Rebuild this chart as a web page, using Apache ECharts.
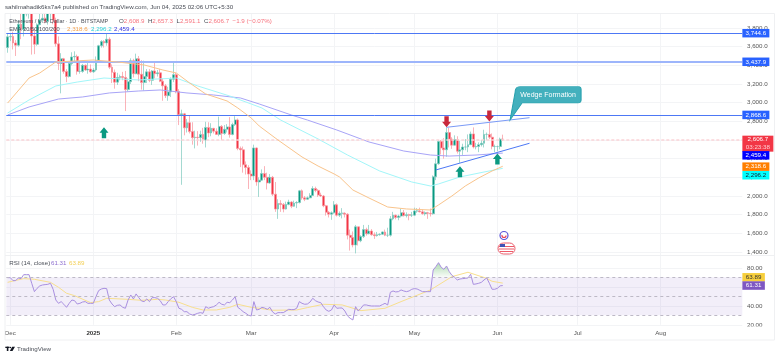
<!DOCTYPE html>
<html lang="en">

<head>
  <meta charset="UTF-8">
  <title>ETH/USD</title>
  <script src="https://cdn.jsdelivr.net/npm/echarts@6/dist/echarts.min.js"></script>
  <style>
    html, body { margin: 0; padding: 0; background: #fff; }
    #chart { width: 780px; height: 358px; }
  </style>
</head>

<body>
  <div id="chart"></div>
  <script>
    // daily candles from 2024-11-30, rows are [open, close, low, high]
    const candles = [
      [3590,3705,3535,3735],[3705,3710,3660,3745],[3710,3640,3570,3760],[3640,3615,3500,3670],[3615,3840,3600,3885],
      [3840,3785,3680,3960],[3785,3960,3710,3960],[3950,3955,3925,3960],[3955,3960,3900,3960],[3960,3715,3515,3960],
      [3715,3625,3520,3790],[3625,3835,3610,3850],[3835,3885,3830,3960],[3885,3905,3860,3950],[3905,3870,3850,3960],
      [3870,3955,3835,3960],[3955,3960,3885,3960],[3960,3885,3840,3960],[3885,3630,3600,3910],[3630,3420,3350,3710],
      [3420,3470,3100,3530],[3470,3335,3310,3480],[3335,3280,3220,3360],[3280,3420,3270,3445],[3420,3490,3400,3540],
      [3490,3495,3440,3550],[3495,3335,3300,3515],[3335,3335,3310,3440],[3335,3400,3320,3415],[3400,3350,3340,3410],
      [3350,3360,3310,3430],[3360,3330,3320,3410],[3330,3350,3320,3370],[3350,3450,3335,3495],[3450,3610,3450,3620],
      [3610,3655,3590,3670],[3655,3640,3590,3670],[3640,3680,3610,3745],[3680,3380,3360,3700],[3380,3325,3210,3410],
      [3325,3220,3150,3355],[3220,3270,3190,3320],[3270,3280,3240,3300],[3280,3270,3240,3330],[3270,3140,2910,3340],
      [3140,3225,3120,3260],[3225,3450,3200,3475],[3450,3310,3270,3470],[3310,3470,3305,3525],[3470,3305,3230,3500],
      [3305,3215,3140,3455],[3215,3280,3130,3450],[3280,3330,3210,3360],[3330,3240,3220,3360],[3240,3340,3190,3350],
      [3340,3310,3260,3430],[3310,3320,3280,3350],[3320,3230,3220,3360],[3230,3180,3020,3260],[3180,3075,3050,3200],
      [3075,3115,3020,3170],[3115,3250,3060,3270],[3250,3300,3220,3440],[3300,3120,3100,3320],[3120,2870,2760,3145],
      [2870,2880,2120,2925],[2880,2730,2650,2890],[2730,2785,2680,2825],[2785,2690,2670,2860],[2690,2625,2550,2790],
      [2625,2630,2510,2700],[2630,2625,2540,2695],[2625,2660,2580,2700],[2660,2600,2560,2730],[2600,2735,2520,2795],
      [2735,2675,2630,2790],[2675,2725,2640,2780],[2725,2695,2670,2730],[2695,2660,2655,2725],[2660,2745,2640,2850],
      [2745,2670,2600,2760],[2670,2715,2655,2760],[2715,2740,2680,2770],[2740,2660,2625,2845],[2660,2765,2650,2785],
      [2765,2815,2750,2855],[2815,2510,2490,2830],[2510,2495,2310,2530],[2495,2335,2250,2530],[2335,2305,2230,2370],
      [2305,2235,2075,2330],[2235,2215,2170,2275],[2215,2515,2170,2550],[2515,2150,2110,2520],[2150,2170,1990,2200],
      [2170,2240,2165,2285],[2240,2200,2170,2320],[2200,2140,2070,2250],[2140,2200,2130,2235],[2200,2020,2000,2215],
      [2020,1860,1830,2150],[1860,1920,1755,1965],[1920,1910,1830,1955],[1910,1860,1825,1925],[1860,1910,1855,1940],
      [1910,1935,1900,1960],[1935,1890,1870,1945],[1890,1925,1885,1950],[1925,1930,1870,1945],[1930,2055,1920,2065],
      [2055,1980,1960,2070],[1980,1965,1945,2000],[1965,1980,1960,1995],[1980,2005,1975,2030],[2005,2080,2000,2105],
      [2080,2060,2040,2100],[2060,2010,1990,2075],[2010,2000,1990,2035],[2000,1895,1880,2010],[1895,1825,1790,1905],
      [1825,1805,1770,1840],[1805,1820,1745,1835],[1820,1905,1810,1945],[1905,1795,1780,1920],[1795,1815,1775,1835],
      [1815,1815,1760,1870],[1815,1805,1770,1825],[1805,1580,1535,1815],[1580,1555,1415,1640],[1555,1475,1450,1620],
      [1475,1670,1385,1690],[1670,1520,1470,1670],[1520,1565,1505,1580],[1565,1640,1550,1690],[1640,1595,1575,1660],
      [1595,1625,1590,1690],[1625,1585,1575,1645],[1585,1575,1540,1610],[1575,1585,1565,1615],[1585,1590,1575,1600],
      [1590,1615,1585,1620],[1615,1580,1570,1640],[1580,1580,1560,1660],[1580,1755,1565,1785],[1755,1795,1740,1830],
      [1795,1770,1750,1800],[1770,1785,1740,1800],[1785,1820,1770,1865],[1820,1790,1780,1850],[1790,1800,1770,1825],
      [1800,1795,1740,1810],[1795,1795,1775,1830],[1795,1840,1785,1875],[1840,1840,1820,1870],[1840,1830,1825,1875],
      [1830,1810,1800,1855],[1810,1820,1790,1835],[1820,1815,1755,1830],[1815,1810,1780,1865],[1810,2205,1800,2220],
      [2205,2345,2170,2400],[2345,2585,2335,2600],[2585,2515,2445,2600],[2515,2495,2400,2620],[2495,2680,2420,2735],
      [2680,2610,2520,2730],[2610,2545,2505,2630],[2545,2605,2540,2650],[2605,2480,2455,2640],[2480,2495,2355,2590],
      [2495,2525,2440,2560],[2525,2525,2490,2610],[2525,2550,2470,2660],[2550,2665,2545,2690],[2665,2525,2510,2735],
      [2525,2530,2500,2570],[2530,2550,2470,2575],[2550,2565,2530,2600],[2565,2660,2520,2710],[2660,2660,2600,2680],
      [2660,2630,2610,2785],[2630,2530,2500,2670],[2530,2530,2470,2550],[2530,2530,2480,2540],[2530,2609,2500,2625],
      [2608.9,2606.7,2591.1,2657.3]
    ]

    // moving averages: [date, value]
    const ema50 = [
      ['2024-11-30',2996],['2024-12-08',3264],['2024-12-12',3318],['2024-12-18',3436],['2025-01-01',3457],
      ['2025-01-10',3436],['2025-01-20',3404],['2025-01-27',3350],['2025-02-01',3318],['2025-02-06',3211],
      ['2025-02-12',3093],['2025-02-20',3018],['2025-02-24',2943],['2025-03-01',2836],['2025-03-04',2750],
      ['2025-03-11',2600],['2025-03-20',2418],['2025-03-26',2321],['2025-04-01',2236],['2025-04-03',2204],
      ['2025-04-08',2064],['2025-04-14',1979],['2025-04-21',1882],['2025-04-28',1861],['2025-05-07',1850],
      ['2025-05-10',1904],['2025-05-15',2000],['2025-05-20',2107],['2025-05-25',2193],['2025-05-30',2268],
      ['2025-06-03',2318.6]
    ]
    const ema100 = [
      ['2024-11-30',2889],['2024-12-08',3029],['2024-12-18',3179],['2024-12-26',3221],['2025-01-05',3264],
      ['2025-01-18',3243],['2025-02-01',3264],['2025-02-09',3179],['2025-02-21',3071],['2025-03-01',2986],
      ['2025-03-05',2943],['2025-03-12',2814],['2025-03-26',2611],['2025-04-06',2439],['2025-04-18',2268],
      ['2025-04-30',2150],['2025-05-07',2107],['2025-05-10',2129],['2025-05-18',2204],['2025-05-27',2257],
      ['2025-06-03',2296.2]
    ]
    const ema200 = [
      ['2024-11-30',2868],['2024-12-08',2954],['2024-12-19',3039],['2024-12-28',3061],['2025-01-07',3104],
      ['2025-01-18',3125],['2025-01-26',3136],['2025-02-05',3104],['2025-02-15',3082],['2025-02-25',3050],
      ['2025-03-04',2986],['2025-03-16',2868],['2025-03-22',2814],['2025-04-02',2707],['2025-04-14',2579],
      ['2025-04-27',2482],['2025-05-07',2439],['2025-05-14',2428],['2025-05-24',2439],['2025-06-03',2459.4]
    ]

    // RSI(14), one value per candle
    const rsi = [
      69.6,69.6,66.5,66.5,69.3,68.6,72.8,72.8,72.8,63.7,54.9,58.4,60.9,61.9,62.3,62.6,63.7,57.4,46.1,42.6,44.4,41.6,38.4,42.6,46.1,45.4,41.9,42.6,44,44.4,42.6,42.6,
      42.6,49.6,56,57.7,58.4,58.1,46.1,41.9,39.1,40.5,40.9,38.4,37.4,46.1,51.4,47.2,52.5,48.6,45.1,44.4,47.2,44.4,48.6,48.6,47.9,45.4,40.9,40.9,44.4,47.5,49.6,
      44.4,37.4,36.3,33.8,33.8,31.4,30.3,31,32.1,32.8,32.1,39.1,37.4,38.4,39.1,40.9,43.7,41.6,40.9,43.7,43.3,46.1,49.6,38.4,36.3,33.8,32.1,30,
      29.3,44.4,35.6,36.3,38.4,37.7,36.3,38.4,33.5,31.4,32.8,32.8,32.8,34.5,36.3,36,36,37.4,44.4,42.6,41.6,41.9,44,47.9,45.4,44,43.3,39.1,35.6,34.2,35.6,
      40.9,37.4,37.7,37.7,34.5,29.3,26.8,25.1,39.1,34.5,37.4,40.9,40.9,40.2,39.8,39.8,39.8,39.8,41.2,42.6,40.9,54.2,55.6,54.6,54.9,56.7,55.6,54.9,55.6,57.4,
      58.1,57.7,56.3,54.9,54.9,54.9,54.9,77.7,81.2,85.4,80.5,78.4,81.9,76,72.1,70,67.2,68.2,68.6,68.9,69.3,73.2,62.6,63,63.7,64.7,67.2,69.3,63.7,57.4,57.4,58.4,61,61.31
    ]
    const rsiMa = [
      ['2024-11-30',64.7],['2024-12-02',66.1],['2024-12-06',68.6],['2024-12-10',67.9],['2024-12-16',64.7],
      ['2024-12-19',59.5],['2024-12-22',53.2],['2024-12-25',50.7],['2024-12-31',43.3],['2025-01-03',44.4],
      ['2025-01-06',47.9],['2025-01-14',46.8],['2025-01-19',45.8],['2025-01-25',46.8],['2025-01-28',46.1],
      ['2025-02-02',43.7],['2025-02-07',38.4],['2025-02-11',35.6],['2025-02-16',35.6],['2025-02-21',38.4],
      ['2025-02-24',41.6],['2025-03-01',38.4],['2025-03-04',37.4],['2025-03-09',35.3],['2025-03-18',35.6],
      ['2025-03-22',38.1],['2025-03-28',41.6],['2025-04-04',40.9],['2025-04-11',34.9],['2025-04-20',37.4],
      ['2025-04-26',44.4],['2025-05-07',56.7],['2025-05-15',70.7],['2025-05-21',75.3],['2025-05-28',68.9],
      ['2025-05-30',65.8],['2025-06-03',63.89]
    ]

    const levels = [3744.6, 3437.9, 2868.6]
    const lastPrice = 2606.7
    const wedgeTop = [['2025-05-13', 2736], ['2025-06-13', 2839]]
    const wedgeBottom = [['2025-05-09', 2279], ['2025-06-13', 2565]]
    const arrowsDown = [['2025-05-13', 2796], ['2025-05-29', 2857]]
    const arrowsUp = [['2025-01-05', 2678], ['2025-05-18', 2260], ['2025-06-01', 2396]]
    const monthLabels = {
      '2024-12-01': 'Dec', '2025-01-01': '2025', '2025-02-01': 'Feb', '2025-03-01': 'Mar',
      '2025-04-01': 'Apr', '2025-05-01': 'May', '2025-06-01': 'Jun', '2025-07-01': 'Jul', '2025-08-01': 'Aug'
    }

    // axis runs to the end of August, the candles stop at Jun 3
    const days = []
    for (let i = 0; i < 275; i++) {
      days.push(new Date(Date.UTC(2024, 10, 30 + i)).toISOString().slice(0, 10))
    }
    const lastDay = days[days.length - 1]
    const isMonth = (i, d) => monthLabels[d] !== undefined

    const RED = '#f23645'
    const GREEN = '#089981'
    const BLUE = '#4d78f5'
    const GRID = '#f3f4f6'
    const FONT = '"Liberation Sans", Arial, sans-serif'

    const fmtPrice = v => v.toLocaleString('en-US', { minimumFractionDigits: 1, maximumFractionDigits: 1 })

    const ARROW_UP = 'path://M4.5 0L9 5.5H6.7V11H2.3V5.5H0Z'
    const ARROW_DOWN = 'path://M2.3 0H6.7V5.5H9L4.5 11L0 5.5H2.3Z'
    const CALLOUT = 'path://M0 33.5L5 6Q5 0 10 0H68Q71 0 71 3V13.5Q71 16.5 68 16.5H12Z'

    // price tag on the right scale
    function tag(value, bg, color, dy, w) {
      return {
        coord: [lastDay, value],
        symbol: 'rect',
        symbolSize: [w, 8.5],
        symbolOffset: [1.4 + w / 2, dy],
        itemStyle: { color: bg },
        label: { show: true, position: 'inside', formatter: w > 24 ? fmtPrice(value) : value.toFixed(2), color: color, fontSize: 6.2, fontFamily: FONT }
      }
    }

    const arrow = (pt, sym, color) => ({
      coord: pt, symbol: sym, symbolSize: [9, 11], itemStyle: { color: color }, label: { show: false }
    })

    const markers = [
      ...arrowsDown.map(p => arrow(p, ARROW_DOWN, '#c8283c')),
      ...arrowsUp.map(p => arrow(p, ARROW_UP, '#0b9981')),
      {
        coord: ['2025-06-19', 2994],
        symbol: CALLOUT,
        symbolSize: [71, 33.5],
        symbolKeepAspect: false,
        itemStyle: { color: '#43b0bd', borderColor: '#25a0ad', borderWidth: 0.7 },
        label: { show: true, position: 'inside', offset: [2.5, -8.5], formatter: 'Wedge Formation', color: '#fff', fontSize: 7, fontFamily: FONT }
      },
      tag(levels[0], '#2962ff', '#fff', 0, 27),
      tag(levels[1], '#2962ff', '#fff', 0, 27),
      tag(levels[2], '#2962ff', '#fff', 0, 27),
      {
        coord: [lastDay, lastPrice],
        symbol: 'rect',
        symbolSize: [31, 16],
        symbolOffset: [16.9, 4.3],
        itemStyle: { color: RED },
        label: {
          show: true, position: 'inside', formatter: '{a|2,606.7}\n{b|03:23:38}',
          rich: {
            a: { color: '#fff', fontSize: 6.2, lineHeight: 8, fontFamily: FONT },
            b: { color: '#ffd0d4', fontSize: 6.2, lineHeight: 8, fontFamily: FONT }
          }
        }
      },
      tag(2459.4, '#0000ff', '#fff', 2.2, 27),
      tag(2318.6, '#ff7f00', '#fff', 0.4, 27),
      tag(2296.2, '#00ffff', '#123', 6.9, 27)
    ]

    const emaLine = (name, data, color) => ({
      name, type: 'line', data, xAxisIndex: 0, yAxisIndex: 0,
      showSymbol: false, silent: true, lineStyle: { color, width: 1 }
    })

    const title = (text, left, top, rich, size) => ({
      text, left, top, z: 60, padding: 0,
      textStyle: { fontSize: size || 6.2, fontWeight: 'normal', color: '#4a4e57', fontFamily: FONT, rich }
    })
    const ohlcRich = {
      r: { color: '#f7737e', fontSize: 6.2, fontFamily: FONT },
      k: { color: '#4a4e57', fontSize: 6.2, fontFamily: FONT }
    }

    const option = {
      animation: false,
      backgroundColor: '#fff',
      textStyle: { fontFamily: FONT },
      title: [
        title('sahilmahadik6ks7a4 published on TradingView.com, Jun 04, 2025 02:06 UTC+5:30', 5, 4.5),
        title('Ethereum / U.S. Dollar · 1D · BITSTAMP', 9.3, 18, undefined, 5.5),
        title('{k|O}{r|2,608.9}  {k|H}{r|2,657.3}  {k|L}{r|2,591.1}  {k|C}{r|2,606.7}  {r|−1.9 (−0.07%)}', 119, 18, ohlcRich),
        title('EMA 20/50/100/200', 9.3, 26.5, undefined, 5.7),
        title('{o|2,318.6}', 67, 26.5, { o: { color: '#f5a04a', fontSize: 6.2, fontFamily: FONT } }),
        title('{c|2,296.2}', 91, 26.5, { c: { color: '#27cfd6', fontSize: 6.2, fontFamily: FONT } }),
        title('{b|2,459.4}', 114, 26.5, { b: { color: '#3535e0', fontSize: 6.2, fontFamily: FONT } }),
        title('RSI (14, close)', 9.3, 260),
        title('{p|61.31}', 51, 260, { p: { color: '#8e6fcf', fontSize: 6.2, fontFamily: FONT } }),
        title('{y|63.89}', 69, 260, { y: { color: '#f3cf55', fontSize: 6.2, fontFamily: FONT } }),
        title('TradingView', 17, 346)
      ],
      grid: [
        { left: 6.3, width: 736, top: 9.33, height: 261.33 },
        { left: 6.3, width: 736, top: 248.8, height: 76 }
      ],
      xAxis: [
        {
          type: 'category', gridIndex: 0, data: days, boundaryGap: true,
          axisLine: { show: false }, axisTick: { show: false }, axisLabel: { show: false },
          splitLine: { show: true, interval: isMonth, alignWithLabel: true, lineStyle: { color: GRID, width: 1 } }
        },
        {
          type: 'category', gridIndex: 1, data: days, boundaryGap: true,
          axisLine: { show: false }, axisTick: { show: false },
          axisLabel: {
            show: true, interval: isMonth, margin: 5, color: '#555', fontSize: 6.2, hideOverlap: false,
            formatter: v => v === '2025-01-01' ? '{y|2025}' : monthLabels[v],
            rich: { y: { fontWeight: 'bold', color: '#333', fontSize: 6.2, fontFamily: FONT } }
          },
          splitLine: { show: true, interval: isMonth, alignWithLabel: true, lineStyle: { color: GRID, width: 1 } }
        }
      ],
      yAxis: [
        {
          type: 'value', gridIndex: 0, position: 'right', min: 1200, max: 4000, interval: 200,
          axisLine: { show: false }, axisTick: { show: false },
          axisLabel: { margin: 4.7, color: '#555', fontSize: 6.2, showMinLabel: false, showMaxLabel: false, formatter: v => fmtPrice(v) },
          splitLine: { show: true, showMinLine: false, showMaxLine: false, lineStyle: { color: GRID, width: 1 } }
        },
        {
          type: 'value', gridIndex: 1, position: 'right', min: 20, max: 100, interval: 20,
          axisLine: { show: false }, axisTick: { show: false },
          axisLabel: { margin: 4.7, color: '#555', fontSize: 6.2, showMaxLabel: false, formatter: v => v.toFixed(2) },
          splitLine: { show: true, showMaxLine: false, lineStyle: { color: GRID, width: 1 } }
        }
      ],
      series: [
        {
          type: 'candlestick', name: 'ETH', data: candles, xAxisIndex: 0, yAxisIndex: 0,
          barWidth: 2.4, silent: true,
          itemStyle: { color: GREEN, color0: RED, borderColor: '#7cc9bd', borderColor0: '#f8929b', borderWidth: 0.7 }
        },
        emaLine('EMA 200', ema200, '#a8a4f7'),
        emaLine('EMA 100', ema100, '#a2f6f9'),
        {
          ...emaLine('EMA 50', ema50, '#f9c48c'),
          z: 5,
          markLine: {
            silent: true, symbol: 'none', animation: false, label: { show: false },
            data: [
              { yAxis: levels[0], lineStyle: { color: BLUE, width: 1, type: 'solid' } },
              { yAxis: levels[1], lineStyle: { color: '#9db5fb', width: 2, type: 'solid' } },
              { yAxis: levels[2], lineStyle: { color: BLUE, width: 1, type: 'solid' } },
              { yAxis: lastPrice, lineStyle: { color: '#fcd3d7', width: 1.5, type: [3, 2] } },
              [{ coord: wedgeTop[0], lineStyle: { color: '#7a9af7', width: 1, type: 'solid' } }, { coord: wedgeTop[1] }],
              [{ coord: wedgeBottom[0], lineStyle: { color: BLUE, width: 1, type: 'solid' } }, { coord: wedgeBottom[1] }]
            ]
          },
          markPoint: { silent: true, animation: false, data: markers }
        },
        // RSI pane
        {
          type: 'line', name: 'RSI band', data: [], xAxisIndex: 1, yAxisIndex: 1, silent: true,
          markArea: { silent: true, itemStyle: { color: 'rgba(126,87,194,0.1)' }, data: [[{ yAxis: 70 }, { yAxis: 30 }]] },
          markLine: {
            silent: true, symbol: 'none', label: { show: false },
            lineStyle: { color: '#bdb9c6', width: 1, type: [3, 3] },
            data: [{ yAxis: 70 }, { yAxis: 50 }, { yAxis: 30 }]
          }
        },
        {
          type: 'line', name: 'Overbought', xAxisIndex: 1, yAxisIndex: 1, silent: true, showSymbol: false,
          data: rsi.map((v, i) => [days[i], v >= 70 ? v : null]),
          lineStyle: { width: 0 },
          areaStyle: {
            origin: 70, opacity: 1,
            color: new echarts.graphic.LinearGradient(0, 0, 0, 1, [
              { offset: 0, color: 'rgba(76,175,80,0.45)' },
              { offset: 1, color: 'rgba(76,175,80,0.03)' }
            ])
          }
        },
        {
          type: 'line', name: 'RSI MA', data: rsiMa, xAxisIndex: 1, yAxisIndex: 1, silent: true,
          showSymbol: false, lineStyle: { color: '#f8df8e', width: 1 }
        },
        {
          type: 'line', name: 'RSI', data: rsi.map((v, i) => [days[i], v]), xAxisIndex: 1, yAxisIndex: 1, silent: true,
          showSymbol: false, lineStyle: { color: '#a98fe0', width: 1 },
          markPoint: {
            silent: true,
            data: [
              { ...tag(63.89, '#f7cf3c', '#333', -5.8, 22.5) },
              { ...tag(61.31, '#7e57c2', '#fff', 0, 22.5) }
            ]
          }
        }
      ],
      graphic: [
        // pane frame
        { type: 'rect', z: 50, silent: true, shape: { x: 0, y: 0, width: 780, height: 13 }, style: { fill: '#fff' } },
        { type: 'rect', z: 50, silent: true, shape: { x: 744, y: 326.5, width: 28, height: 3 }, style: { fill: '#fff' } },
        { type: 'rect', z: 51, silent: true, shape: { x: 5, y: 13.5, width: 769.5, height: 326.5 }, style: { fill: 'none', stroke: '#eff0f2', lineWidth: 1 } },
        { type: 'line', z: 51, silent: true, shape: { x1: 5, y1: 255.5, x2: 774.5, y2: 255.5 }, style: { stroke: '#eff0f2', lineWidth: 1 } },
        // event icons under the candles
        { type: 'circle', z: 40, silent: true, shape: { cx: 504, cy: 235.5, r: 4 }, style: { fill: '#fff', stroke: '#5a55d8', lineWidth: 1.2 } },
        { type: 'arc', z: 41, silent: true, shape: { cx: 504, cy: 235.5, r: 2, startAngle: 0, endAngle: 3.4 }, style: { fill: 'none', stroke: '#e8445a', lineWidth: 1.2 } },
        { type: 'rect', z: 40, silent: true, shape: { x: 498, y: 243, width: 17, height: 11, r: 5.5 }, style: { fill: '#fff', stroke: '#ec5a68', lineWidth: 1 } },
        { type: 'line', z: 41, silent: true, shape: { x1: 499, y1: 246.5, x2: 514, y2: 246.5 }, style: { stroke: '#ec5a68', lineWidth: 1 } },
        { type: 'line', z: 41, silent: true, shape: { x1: 499, y1: 249, x2: 514, y2: 249 }, style: { stroke: '#ec5a68', lineWidth: 1 } },
        { type: 'line', z: 41, silent: true, shape: { x1: 500, y1: 251.5, x2: 513, y2: 251.5 }, style: { stroke: '#ec5a68', lineWidth: 1 } },
        { type: 'rect', z: 42, silent: true, shape: { x: 500, y: 244, width: 5, height: 3 }, style: { fill: '#3f51b5' } },
        // TradingView mark
        { type: 'rect', z: 51, silent: true, shape: { x: 5.3, y: 346.7, width: 4.2, height: 1.3 }, style: { fill: '#131722' } },
        { type: 'rect', z: 51, silent: true, shape: { x: 6.8, y: 346.7, width: 1.6, height: 4.3 }, style: { fill: '#131722' } },
        { type: 'circle', z: 51, silent: true, shape: { cx: 10.4, cy: 347.5, r: 0.8 }, style: { fill: '#131722' } },
        { type: 'polygon', z: 51, silent: true, shape: { points: [[9.8, 351], [12.2, 346.7], [15, 346.7], [12.5, 351]] }, style: { fill: '#131722' } }
      ]
    }

    const myEcharts = echarts.init(document.getElementById('chart'))
    myEcharts.setOption(option)
  </script>
</body>

</html>
